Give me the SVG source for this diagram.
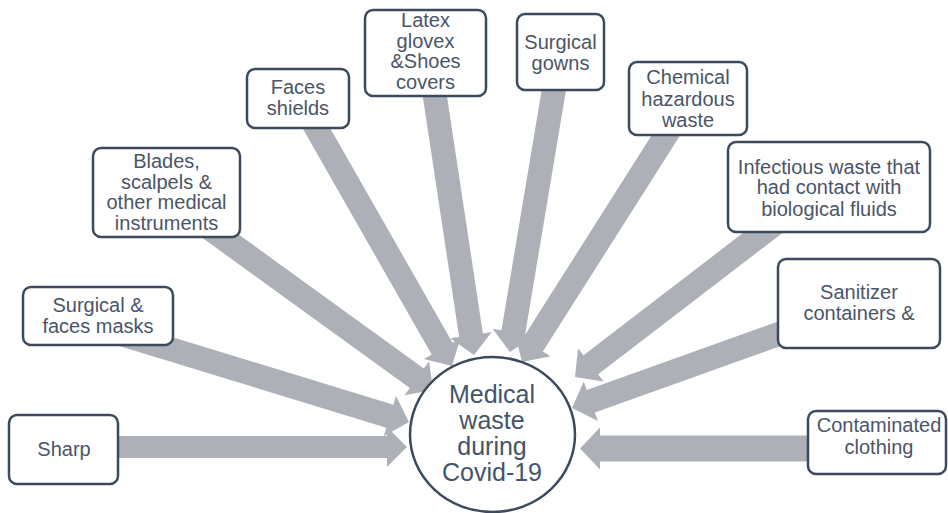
<svg xmlns="http://www.w3.org/2000/svg" width="948" height="513" viewBox="0 0 948 513">
<style>
.arrow{fill:#adb0b7;stroke:none}
.box{fill:#ffffff;stroke:#3d4a5c;stroke-width:2.5}
.t{font-family:"Liberation Sans",Arial,sans-serif;font-size:20px;fill:#4a5568;text-anchor:middle}
.c{font-family:"Liberation Sans",Arial,sans-serif;font-size:25px;fill:#44546a;text-anchor:middle}
</style>
<rect width="948" height="513" fill="#ffffff"/>
<g id="connectors">
<path class="arrow" transform="translate(407,447) rotate(0)" d="M-327,-11 H-20 V-20 L0,0 L-20,20 V11 H-327 Z"/>
<path class="arrow" transform="translate(409,422) rotate(17)" d="M-320,-12 H-20 V-21 L0,0 L-20,21 V12 H-320 Z"/>
<path class="arrow" transform="translate(433,390) rotate(35.9)" d="M-285,-12 H-20 V-21 L0,0 L-20,21 V12 H-285 Z"/>
<path class="arrow" transform="translate(452,366) rotate(60.3)" d="M-294,-12 H-20 V-21 L0,0 L-20,21 V12 H-294 Z"/>
<path class="arrow" transform="translate(474,355) rotate(81.4)" d="M-282,-12 H-20 V-21 L0,0 L-20,21 V12 H-282 Z"/>
<path class="arrow" transform="translate(510,352) rotate(99.5)" d="M-286,-12 H-20 V-21 L0,0 L-20,21 V12 H-286 Z"/>
<path class="arrow" transform="translate(522,362) rotate(122.4)" d="M-289,-12 H-20 V-21 L0,0 L-20,21 V12 H-289 Z"/>
<path class="arrow" transform="translate(575,377) rotate(142.5)" d="M-257,-12 H-20 V-21 L0,0 L-20,21 V12 H-257 Z"/>
<path class="arrow" transform="translate(572,408) rotate(160.3)" d="M-252,-12 H-20 V-21 L0,0 L-20,21 V12 H-252 Z"/>
<path class="arrow" transform="translate(580,448.5) rotate(180)" d="M-260,-13 H-20 V-21 L0,0 L-20,21 V13 H-260 Z"/>
</g>
<g id="center">
<ellipse cx="492.5" cy="434.5" rx="82.5" ry="77.5" fill="#ffffff" stroke="#3d4a5c" stroke-width="2.5"/>
<text class="c" x="492" y="403">Medical</text>
<text class="c" x="492" y="429">waste</text>
<text class="c" x="492" y="455">during</text>
<text class="c" x="492" y="481">Covid-19</text>
</g>
<g id="sharp">
<rect class="box" x="9" y="415" width="109" height="69" rx="8"/>
<text class="t" x="64" y="456">Sharp</text>
</g>
<g id="masks">
<rect class="box" x="23" y="287" width="150" height="58" rx="8"/>
<text class="t" x="98" y="312">Surgical &amp;</text>
<text class="t" x="98" y="333">faces masks</text>
</g>
<g id="blades">
<rect class="box" x="93" y="148" width="147" height="89" rx="8"/>
<text class="t" x="166.5" y="168">Blades,</text>
<text class="t" x="166.5" y="189">scalpels &amp;</text>
<text class="t" x="166.5" y="209">other medical</text>
<text class="t" x="166.5" y="230">instruments</text>
</g>
<g id="faces">
<rect class="box" x="247" y="69" width="102" height="59" rx="8"/>
<text class="t" x="298" y="94">Faces</text>
<text class="t" x="298" y="115">shields</text>
</g>
<g id="latex">
<rect class="box" x="365" y="10" width="121" height="86" rx="8"/>
<text class="t" x="425.5" y="27">Latex</text>
<text class="t" x="425.5" y="48">glovex</text>
<text class="t" x="425.5" y="68">&amp;Shoes</text>
<text class="t" x="425.5" y="89">covers</text>
</g>
<g id="gowns">
<rect class="box" x="517" y="14" width="87" height="76" rx="8"/>
<text class="t" x="560.5" y="49">Surgical</text>
<text class="t" x="560.5" y="70">gowns</text>
</g>
<g id="chemical">
<rect class="box" x="629" y="62" width="118" height="73" rx="8"/>
<text class="t" x="688" y="84">Chemical</text>
<text class="t" x="688" y="106">hazardous</text>
<text class="t" x="688" y="127">waste</text>
</g>
<g id="infectious">
<rect class="box" x="728" y="142" width="202" height="90" rx="8"/>
<text class="t" x="829" y="174">Infectious waste that</text>
<text class="t" x="829" y="194">had contact with</text>
<text class="t" x="829" y="216">biological fluids</text>
</g>
<g id="sanitizer">
<rect class="box" x="778" y="259" width="162" height="89" rx="8"/>
<text class="t" x="859" y="299">Sanitizer</text>
<text class="t" x="859" y="320">containers &amp;</text>
</g>
<g id="contaminated">
<rect class="box" x="808" y="411" width="138" height="63" rx="8"/>
<text class="t" x="879" y="432">Contaminated</text>
<text class="t" x="879" y="454">clothing</text>
</g>
</svg>
